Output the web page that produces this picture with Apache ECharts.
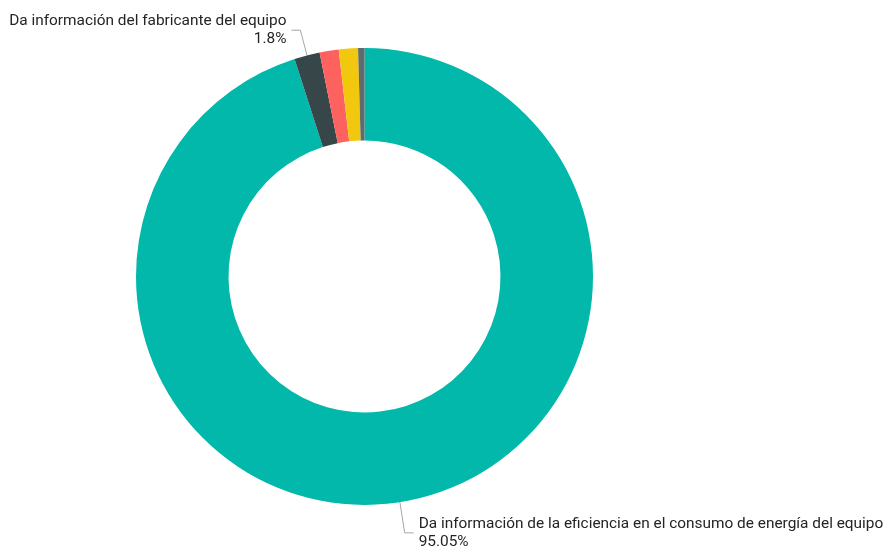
<!DOCTYPE html>
<html>
<head>
<meta charset="utf-8">
<script src="https://cdn.jsdelivr.net/npm/echarts@6/dist/echarts.min.js"></script>
<style>
  html, body { margin: 0; padding: 0; background: #ffffff; }
  #chart { width: 888px; height: 547px; }
</style>
</head>
<body>
<div id="chart"></div>
<script>
// Share of responses per category (percent), clockwise from 12 o'clock
const categories = [
  'Da información de la eficiencia en el consumo de energía del equipo',
  'Da información del fabricante del equipo',
  'Otra información (a)',
  'Otra información (b)',
  'Otra información (c)'
];
const shares = [95.05, 1.8, 1.35, 1.35, 0.45];
const colors = ['#01B8AA', '#374649', '#FD625E', '#F2C80F', '#5F6B6D'];
// Only these slices carry a visible label; leader length per slice
const labelled = [true, true, false, false, false];
const leaderLength = [31, 26, 20, 20, 20];

const chart = echarts.init(document.getElementById('chart'), null, { renderer: 'canvas' });

const data = categories.map((name, i) => ({
  name: name,
  value: shares[i],
  itemStyle: { color: colors[i] },
  label: { show: labelled[i] },
  labelLine: { show: labelled[i], length: leaderLength[i] }
}));

chart.setOption({
  animation: false,
  series: [{
    type: 'pie',
    center: [364.5, 276.5],
    radius: [136, 228.5],
    startAngle: 90,
    clockwise: true,
    avoidLabelOverlap: false,
    data: data,
    itemStyle: { borderWidth: 0 },
    emphasis: { disabled: true },
    label: {
      show: true,
      position: 'outside',
      formatter: p => p.name + '\n' + p.value + '%',
      fontFamily: 'Roboto',
      fontSize: 15.4,
      lineHeight: 18,
      color: '#252423',
      distanceToLabelLine: 5
    },
    labelLine: {
      show: true,
      length: 22,
      length2: 9,
      lineStyle: { color: '#a6a6a6', width: 1 }
    }
  }]
});
</script>
</body>
</html>
